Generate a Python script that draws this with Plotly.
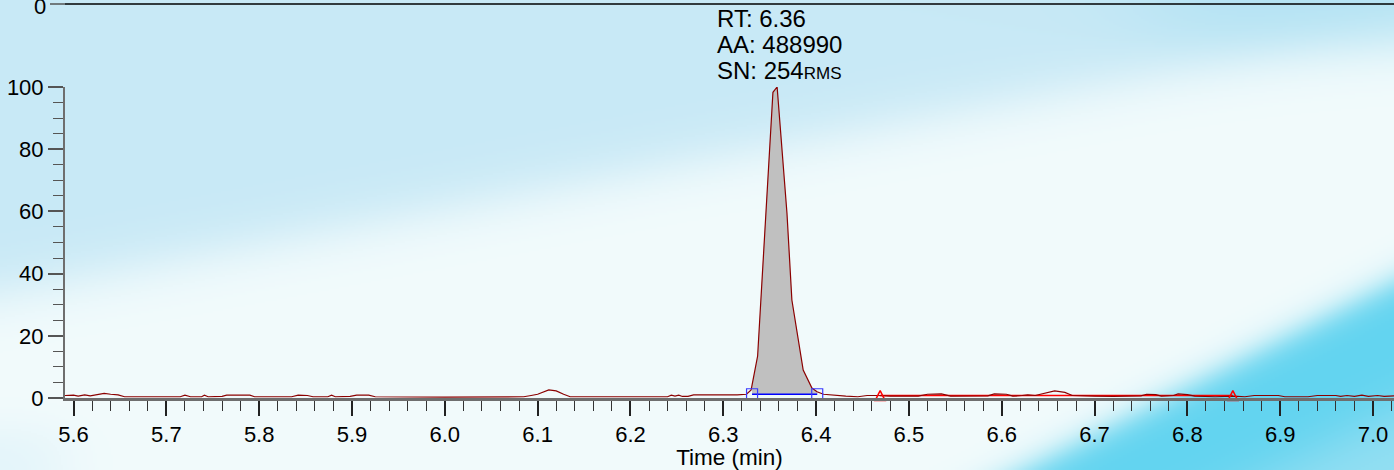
import base64, struct, zlib
import numpy as np
import plotly.graph_objects as go

# ---------------- data ----------------
time_min = [5.590, 5.600, 5.605, 5.612, 5.618, 5.625, 5.633, 5.640, 5.648, 5.655,
            5.700, 5.715, 5.720, 5.726, 5.738, 5.741, 5.745, 5.760, 5.765, 5.790,
            5.795, 5.835, 5.842, 5.852, 5.858, 5.874, 5.878, 5.882, 5.898, 5.905,
            5.918, 5.925, 6.000, 6.085, 6.093, 6.100, 6.112, 6.120, 6.128, 6.135,
            6.240, 6.244, 6.248, 6.252, 6.256, 6.262, 6.268, 6.287, 6.292, 6.305,
            6.315, 6.325, 6.330, 6.337, 6.345, 6.3535, 6.358, 6.363, 6.3686, 6.3739,
            6.3793, 6.3861, 6.3955, 6.401, 6.408, 6.420, 6.432, 6.445, 6.455, 6.466,
            6.480, 6.510, 6.520, 6.535, 6.545, 6.585, 6.592, 6.605, 6.612, 6.622,
            6.628, 6.636, 6.645, 6.657, 6.668, 6.676, 6.700, 6.720, 6.750, 6.756,
            6.766, 6.772, 6.785, 6.790, 6.800, 6.808, 6.830, 6.850, 6.862, 6.872,
            6.898, 6.905, 6.930, 6.940, 6.960, 6.965, 6.972, 6.980, 6.988, 6.995,
            7.005, 7.012, 7.025]
rel_abundance = [0.8, 0.9, 0.6, 1.0, 0.7, 1.0, 1.5, 1.2, 1.0, 0.4,
                 0.3, 0.4, 0.9, 0.4, 0.4, 0.9, 0.4, 0.5, 0.9, 0.9,
                 0.4, 0.4, 0.9, 0.8, 0.4, 0.4, 0.9, 0.4, 0.5, 0.9,
                 0.9, 0.4, 0.3, 0.4, 0.8, 1.2, 2.6, 2.3, 1.2, 0.4,
                 0.4, 0.9, 0.6, 0.9, 0.5, 0.5, 1.0, 1.0, 0.8, 0.8,
                 1.0, 1.2, 2.6, 13.5, 56.0, 98.3, 100.0, 80.8, 59.5, 31.5,
                 20.9, 9.0, 3.2, 2.0, 1.2, 0.8, 0.6, 0.4, 0.8, 0.8,
                 0.6, 0.6, 1.2, 1.3, 0.6, 0.7, 1.3, 1.2, 0.6, 0.8,
                 1.0, 0.8, 1.4, 2.3, 1.8, 0.8, 0.6, 0.5, 0.7, 1.2,
                 1.1, 0.6, 0.8, 1.3, 1.1, 0.6, 0.4, 0.6, 0.4, 0.8,
                 0.8, 0.4, 0.4, 0.8, 0.8, 0.5, 0.8, 0.5, 0.9, 0.5,
                 0.8, 0.5, 0.7]

peak_start = 6.331
peak_end = 6.4012
peak_baseline = 1.2
noise_peak_times = [6.469, 6.849]
noise_peak_level = 2.4
noise_baseline = 0.8

peak_labels = ["RT: 6.36", "AA: 488990", "SN: 254"]
sn_suffix = "RMS"

x_ticks = [5.6, 5.7, 5.8, 5.9, 6.0, 6.1, 6.2, 6.3, 6.4, 6.5, 6.6, 6.7, 6.8, 6.9, 7.0]
y_ticks = [0, 20, 40, 60, 80, 100]

# ---------------- geometry ----------------
W, H = 1394, 470
ML, MR, MT, MB = 65, 0, 87, 72
PW, PH = W - ML - MR, H - MT - MB
FONT = "Liberation Sans, Arial, sans-serif"


# ---------------- background image (decorative) ----------------
def make_bg(w, h):
    xs = np.linspace(0, W, w)
    ys = np.linspace(0, H, h)
    X, Y = np.meshgrid(xs, ys)
    sig = lambda z: 1.0 / (1.0 + np.exp(-z))
    base = np.array([242, 251, 252], float)
    blue = np.array([200, 233, 246], float)
    cyan = np.array([98, 212, 240], float)
    light = np.array([170, 228, 244], float)
    img = np.ones((h, w, 3)) * base
    yb = 292 - 0.19 * X
    tb = sig((yb - Y) / 16.0)
    img = img * (1 - tb[..., None]) + blue * tb[..., None]
    tr = sig((X - 1150) / 40.0) * sig((45 - Y) / 15.0) * 0.4
    img = img * (1 - tr[..., None]) + np.array([150, 218, 240.0]) * tr[..., None]
    yc = 433 - 0.51 * (X - 1100)
    tc = sig((Y - yc) / 10.0)
    yl = 560 - 0.5 * (X - 1100)
    tl = sig((Y - yl) / 18.0) * 0.7
    col = cyan * (1 - tl[..., None]) + light * tl[..., None]
    img = img * (1 - tc[..., None]) + col * tc[..., None]
    tbl = sig((60 - X) / 20.0) * sig((Y - 430) / 12.0) * 0.35
    img = img * (1 - tbl[..., None]) + blue * tbl[..., None]
    return np.clip(img, 0, 255).astype(np.uint8)


def png_uri(arr):
    h, w, _ = arr.shape
    raw = b"".join(b"\x00" + arr[i].tobytes() for i in range(h))

    def chunk(t, d):
        return struct.pack(">I", len(d)) + t + d + struct.pack(">I", zlib.crc32(t + d) & 0xFFFFFFFF)

    png = (b"\x89PNG\r\n\x1a\n"
           + chunk(b"IHDR", struct.pack(">IIBBBBB", w, h, 8, 2, 0, 0, 0))
           + chunk(b"IDAT", zlib.compress(raw, 9))
           + chunk(b"IEND", b""))
    return "data:image/png;base64," + base64.b64encode(png).decode()


bg_uri = png_uri(make_bg(W // 2, H // 2))

# ---------------- traces ----------------
t = np.array(time_min)
v = np.array(rel_abundance)
mask = (t >= peak_start) & (t <= peak_end)
px = np.concatenate([[peak_start], t[mask], [peak_end]])
py = np.concatenate([[np.interp(peak_start, t, v)], v[mask], [np.interp(peak_end, t, v)]])

fig = go.Figure()
fig.add_trace(go.Scatter(x=[peak_start, peak_end], y=[peak_baseline, peak_baseline],
                         mode="lines", line=dict(width=0), hoverinfo="skip", showlegend=False))
fig.add_trace(go.Scatter(x=px, y=py, mode="lines", fill="tonexty", fillcolor="#c0c0c0",
                         line=dict(width=0), hoverinfo="skip", showlegend=False))
fig.add_trace(go.Scatter(x=noise_peak_times, y=[noise_baseline, noise_baseline], mode="lines",
                         line=dict(color="#ff0000", width=1.5), showlegend=False, cliponaxis=False))
fig.add_trace(go.Scatter(x=t, y=v, mode="lines", line=dict(color="#8b0000", width=1.2),
                         showlegend=False, cliponaxis=False))
fig.add_trace(go.Scatter(x=[peak_start, peak_end], y=[peak_baseline, peak_baseline],
                         mode="lines+markers", line=dict(color="#0000ff", width=1.5),
                         marker=dict(symbol="square-open", size=11, color="#3a3aff",
                                     line=dict(width=1.2)),
                         showlegend=False, cliponaxis=False))
fig.add_trace(go.Scatter(x=noise_peak_times, y=[noise_peak_level] * len(noise_peak_times),
                         mode="markers",
                         marker=dict(symbol="arrow-up-open", size=10, color="#ff0000",
                                     line=dict(width=1.5, color="#ff0000")),
                         showlegend=False, cliponaxis=False))

apex = int(np.argmax(v))
line_shifts = [69, 43, 17]
for i, lab in enumerate(peak_labels):
    txt = lab + (f"<span style='font-size:17px'>{sn_suffix}</span>" if i == 2 else "")
    fig.add_annotation(x=t[apex], y=v[apex], xref="x", yref="y", showarrow=False,
                       xanchor="left", yanchor="middle", align="left",
                       xshift=-62, yshift=line_shifts[i], text=txt,
                       font=dict(family=FONT, size=24, color="#000"))

# top remnant of the previous panel's axis
ytop = 1 + (MT - 4) / PH
fig.add_shape(type="line", xref="paper", yref="paper", x0=0, x1=1, y0=ytop, y1=ytop,
              line=dict(color="#000", width=1.5))
fig.add_shape(type="line", xref="paper", yref="paper", x0=-15 / PW, x1=0, y0=ytop, y1=ytop,
              line=dict(color="#555", width=1.5))
fig.add_annotation(x=-17 / PW, y=ytop, xref="paper", yref="paper", text="0", showarrow=False,
                   xanchor="right", yanchor="middle", yshift=-2,
                   font=dict(family=FONT, size=22, color="#000"))

fig.add_layout_image(dict(source=bg_uri, xref="paper", yref="paper",
                          x=-ML / PW, y=1 + MT / PH, sizex=W / PW, sizey=H / PH,
                          xanchor="left", yanchor="top", sizing="stretch", layer="below"))

fig.update_layout(
    width=W, height=H, margin=dict(l=ML, r=MR, t=MT, b=MB, autoexpand=False),
    paper_bgcolor="white", plot_bgcolor="rgba(0,0,0,0)",
    font=dict(family=FONT, size=22, color="#000"),
    showlegend=False,
)
fig.update_xaxes(range=[5.5908, 7.0226], tickvals=x_ticks, ticktext=[f"{x:.1f}" for x in x_ticks],
                 ticks="outside", ticklen=15, tickwidth=1.5, tickcolor="#222",
                 showline=True, linecolor="#6e6e6e", linewidth=2.5, showgrid=False, zeroline=False,
                 minor=dict(dtick=0.02, tick0=5.6, ticks="outside", ticklen=10, tickwidth=1.2,
                            tickcolor="#333", showgrid=False),
                 title=dict(text="Time (min)", standoff=4, font=dict(size=22.5)),
                 tickfont=dict(size=22))
fig.update_yaxes(range=[0, 100], tickvals=y_ticks, ticks="outside", ticklen=15, tickwidth=1.5,
                 tickcolor="#555", showline=True, linecolor="#6e6e6e", linewidth=2,
                 showgrid=False, zeroline=False,
                 minor=dict(dtick=5, tick0=0, ticks="outside", ticklen=10, tickwidth=1.2,
                            tickcolor="#555", showgrid=False),
                 tickfont=dict(size=22))

fig.write_html("out.html", config={"displayModeBar": False},
               post_script="document.body.style.margin='0';document.body.style.overflow='hidden';")
